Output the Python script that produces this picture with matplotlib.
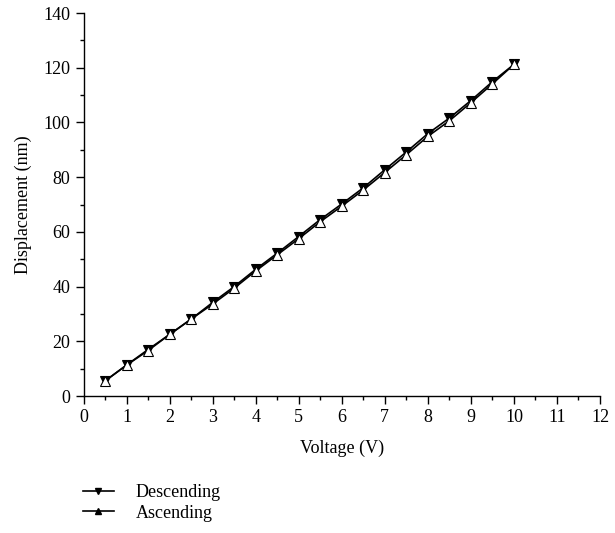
import matplotlib
matplotlib.use('Agg')
import matplotlib.pyplot as plt
from matplotlib.ticker import MultipleLocator

voltage = [0.5, 1, 1.5, 2, 2.5, 3, 3.5, 4, 4.5, 5, 5.5, 6, 6.5, 7, 7.5, 8, 8.5, 9, 9.5, 10]
descending = [5.5, 11.3, 17.0, 22.5, 28.1, 34.2, 40.0, 46.3, 52.2, 58.3,
              64.5, 70.2, 76.1, 82.7, 89.2, 95.9, 101.6, 108.0, 114.9, 121.2]
ascending = [5.5, 11.3, 16.6, 22.5, 28.1, 33.6, 39.4, 45.7, 51.6, 57.5,
             63.7, 69.4, 75.3, 81.7, 88.2, 94.9, 100.6, 107.2, 114.1, 121.2]

plt.rcParams['font.family'] = ['Liberation Serif', 'DejaVu Serif']
plt.rcParams['font.size'] = 13

fig = plt.figure(figsize=(6.15, 5.33), dpi=100)
ax = fig.add_axes([0.1358, 0.257, 0.8398, 0.7186])

l1, = ax.plot(voltage, descending, color='black', lw=1.2, marker='v', ms=6.5,
              mfc='black', mec='black', mew=0.8, label='Descending')
l2, = ax.plot(voltage, ascending, color='black', lw=1.2, marker='^', ms=6.5,
              mfc='white', mec='black', mew=0.8, label='Ascending')

ax.set_xlim(0, 12)
ax.set_ylim(0, 140)
ax.xaxis.set_major_locator(MultipleLocator(1))
ax.xaxis.set_minor_locator(MultipleLocator(0.5))
ax.yaxis.set_major_locator(MultipleLocator(20))
ax.yaxis.set_minor_locator(MultipleLocator(10))
ax.tick_params(which='major', direction='out', length=6, width=1, labelsize=13)
ax.tick_params(which='minor', direction='out', length=3, width=1)
for s in ['top', 'right']:
    ax.spines[s].set_visible(False)
for s in ['left', 'bottom']:
    ax.spines[s].set_linewidth(1)

ax.set_xlabel('Voltage (V)', fontsize=13, labelpad=10)
ax.set_ylabel('Displacement (nm)', fontsize=13, labelpad=8)

h1, = ax.plot([], [], color='black', lw=1.2, marker='v', ms=4.5, mfc='black', mec='black')
h2, = ax.plot([], [], color='black', lw=1.2, marker='^', ms=4.5, mfc='black', mec='black')
fig.legend([h1, h2], ['Descending', 'Ascending'], loc='upper left',
           bbox_to_anchor=(0.135, 0.092), frameon=False, fontsize=13,
           handlelength=1.7, handletextpad=1.2, labelspacing=0.2,
           borderaxespad=0, borderpad=0)

fig.savefig('out.png', dpi=100)
